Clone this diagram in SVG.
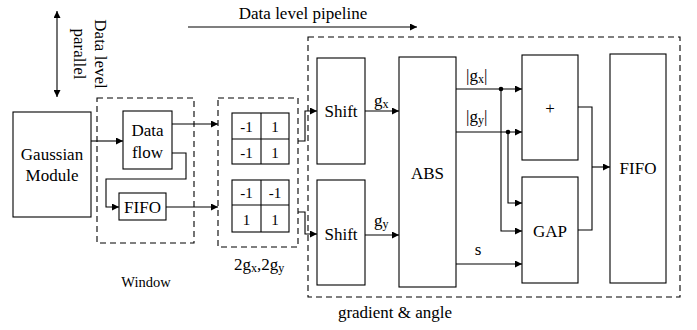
<svg xmlns="http://www.w3.org/2000/svg" width="697" height="330" viewBox="0 0 697 330" font-family="'Liberation Serif', 'DejaVu Serif', serif">
<defs>
<marker id="ah" viewBox="0 0 10 10" refX="10" refY="5" markerWidth="9" markerHeight="7" markerUnits="userSpaceOnUse" orient="auto-start-reverse">
<path d="M0,0 L10,5 L0,10 z" fill="#000"/>
</marker>
<style>
text{font-family:'Liberation Serif','DejaVu Serif',serif;fill:#000;}
.t{font-size:17px;text-anchor:middle;}
.m{font-size:15px;text-anchor:middle;}
.box{fill:#fff;stroke:#000;stroke-width:1.1;}
.dash{fill:none;stroke:#000;stroke-width:1.1;stroke-dasharray:6,4;}
.ln{fill:none;stroke:#000;stroke-width:1.1;}
.arr{fill:none;stroke:#000;stroke-width:1.1;marker-end:url(#ah);}
.sub{font-size:12px;}
</style>
</defs>
<rect width="697" height="330" fill="#fff"/>

<!-- annotations -->
<g id="parallel-annot">
<line x1="57" y1="11" x2="57" y2="97" class="ln" marker-start="url(#ah)" marker-end="url(#ah)"/>
<text class="t" font-family="Liberation Serif, serif" transform="translate(95,54) rotate(90)">Data level</text>
<text class="t" font-family="Liberation Serif, serif" transform="translate(74,54) rotate(90)">parallel</text>
</g>
<g id="pipeline-annot">
<line x1="188" y1="27" x2="417" y2="27" class="arr"/>
<text class="t" x="303" y="19">Data level pipeline</text>
</g>

<!-- group boxes -->
<g id="window">
<rect x="97" y="98" width="97" height="145" class="dash"/>
<text x="146" y="287" style="font-size:14.5px;text-anchor:middle">Window</text>
</g>
<g id="kernels">
<rect x="218" y="98" width="80" height="149" class="dash"/>
<text class="t" x="259" y="270">2g<tspan class="sub" dy="2">x</tspan><tspan dy="-2">,2g</tspan><tspan class="sub" dy="2">y</tspan></text>
</g>
<g id="gradient-angle">
<rect x="308" y="37" width="372" height="260" class="dash"/>
<text class="t" x="395" y="318">gradient &amp; angle</text>
</g>

<!-- nodes -->
<g id="gaussian">
<rect x="13" y="112" width="78" height="105" class="box"/>
<text class="t" x="52" y="160">Gaussian</text>
<text class="t" x="52" y="181">Module</text>
</g>
<g id="dataflow">
<rect x="123" y="111" width="49" height="58" class="box"/>
<text class="t" x="147.5" y="136">Data</text>
<text class="t" x="147.5" y="158">flow</text>
</g>
<g id="fifo1">
<rect x="119" y="193" width="47" height="27" class="box"/>
<text class="t" x="142.5" y="213">FIFO</text>
</g>
<g id="kernel-x">
<rect x="232" y="113" width="57" height="51" class="box"/>
<line x1="261" y1="113" x2="261" y2="164" class="ln"/>
<line x1="232" y1="139" x2="289" y2="139" class="ln"/>
<text class="m" x="246.5" y="132">-1</text>
<text class="m" x="275" y="132">1</text>
<text class="m" x="246.5" y="158">-1</text>
<text class="m" x="275" y="158">1</text>
</g>
<g id="kernel-y">
<rect x="232" y="180" width="57" height="52" class="box"/>
<line x1="261" y1="180" x2="261" y2="232" class="ln"/>
<line x1="232" y1="205" x2="289" y2="205" class="ln"/>
<text class="m" x="246.5" y="198">-1</text>
<text class="m" x="275" y="198">-1</text>
<text class="m" x="246.5" y="225">1</text>
<text class="m" x="275" y="225">1</text>
</g>
<g id="shift1">
<rect x="317" y="58" width="48" height="106" class="box"/>
<text class="t" x="341" y="117">Shift</text>
</g>
<g id="shift2">
<rect x="317" y="180" width="48" height="105" class="box"/>
<text class="t" x="341" y="240">Shift</text>
</g>
<g id="abs">
<rect x="399" y="57" width="57" height="230" class="box"/>
<text class="t" x="427.5" y="179">ABS</text>
</g>
<g id="plus">
<rect x="522" y="55" width="56" height="105" class="box"/>
<text class="t" x="550" y="114">+</text>
</g>
<g id="gap">
<rect x="522" y="177" width="56" height="106" class="box"/>
<text class="t" x="550" y="237">GAP</text>
</g>
<g id="fifo2">
<rect x="610" y="54" width="56" height="229" class="box"/>
<text class="t" x="638" y="174">FIFO</text>
</g>

<!-- connectors -->
<g id="connectors">
<line x1="91" y1="141" x2="123" y2="141" class="arr"/>
<polyline points="172,153 186,153 186,179 106,179 106,207 119,207" class="arr"/>
<line x1="172" y1="124" x2="218" y2="124" class="arr"/>
<line x1="166" y1="207" x2="218" y2="207" class="arr"/>
<polyline points="298,141 305,141 305,111 317,111" class="arr"/>
<polyline points="298,212 305,212 305,234 317,234" class="arr"/>
<line x1="365" y1="111" x2="399" y2="111" class="arr"/>
<line x1="365" y1="235" x2="399" y2="235" class="arr"/>
<line x1="456" y1="89" x2="522" y2="89" class="arr"/>
<line x1="456" y1="132" x2="522" y2="132" class="arr"/>
<line x1="456" y1="264" x2="522" y2="264" class="arr"/>
<polyline points="501,89 501,231 522,231" class="arr"/>
<polyline points="508,132 508,203 522,203" class="arr"/>
<circle cx="501" cy="89" r="2.3" fill="#000"/>
<circle cx="508" cy="132" r="2.3" fill="#000"/>
<polyline points="578,107 592,107 592,167" class="ln"/>
<polyline points="578,230 592,230 592,167" class="ln"/>
<line x1="592" y1="167" x2="610" y2="167" class="arr"/>
</g>

<!-- connector labels -->
<g id="labels">
<text x="374" y="106" style="font-size:17px">g<tspan class="sub" dy="2">x</tspan></text>
<text x="374" y="226" style="font-size:17px">g<tspan class="sub" dy="2">y</tspan></text>
<text x="466" y="81" style="font-size:17px">|g<tspan class="sub" dy="2">x</tspan><tspan dy="-2">|</tspan></text>
<text x="466" y="122" style="font-size:17px">|g<tspan class="sub" dy="2">y</tspan><tspan dy="-2">|</tspan></text>
<text x="478" y="255" style="font-size:17px;text-anchor:middle">s</text>
</g>
</svg>
